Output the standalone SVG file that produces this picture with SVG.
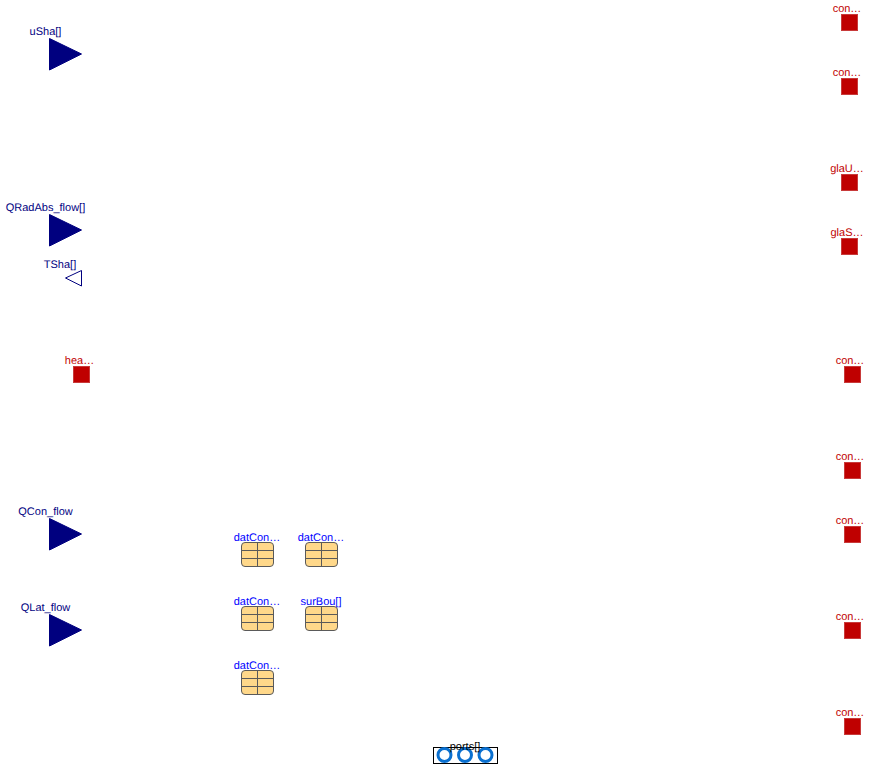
<svg xmlns="http://www.w3.org/2000/svg" width="870" height="770" viewBox="0 0 870 770">
<style>
text{font-family:"Liberation Sans",Arial,sans-serif;font-size:11px;text-anchor:middle;opacity:.99;text-rendering:geometricPrecision}
.n{fill:#00007f}
.r{fill:#bf0000}
.b{fill:#0000ff}
.k{fill:#000}
.tf{fill:#00007f;stroke:#00007f}
.to{fill:#fff;stroke:#00007f}
.sq{fill:#bf0000;stroke:#c83a3a;stroke-width:1}
.tb{fill:#ffd88a;stroke:#5a5a5a;stroke-width:1}
.gl{fill:none;stroke:#5a5a5a;stroke-width:1}
.ring{fill:#fff;stroke:#0a70d0;stroke-width:3}
</style>
<defs>
<g id="tab"><rect x="0.5" y="0.5" width="32" height="24" rx="3.5" class="tb"/><path d="M0.5 8.5H32.5M0.5 16.5H32.5M16.5 0.5V24.5" class="gl"/></g>
<rect id="sq" x="0.5" y="0.5" width="16" height="16" class="sq"/>
<polygon id="tri" points="49.5,38.5 81.5,54 49.5,70" class="tf"/>
</defs>
<g id="connectors"/>
<g id="uSha"><text x="45.500" y="35" class="n">uSha[]</text><use href="#tri"/></g>
<g id="QRadAbs_flow"><text x="45.500" y="211" class="n">QRadAbs_flow[]</text><use href="#tri" y="176"/></g>
<g id="TSha"><text x="60" y="268" class="n">TSha[]</text><polygon points="81.500,270.500 65.500,278 81.500,286" class="to"/></g>
<g id="hea"><text x="79.500" y="364" class="r">hea…</text><use href="#sq" x="73" y="366"/></g>
<g id="QCon_flow"><text x="45.500" y="515" class="n">QCon_flow</text><use href="#tri" y="480"/></g>
<g id="QLat_flow"><text x="45.500" y="611" class="n">QLat_flow</text><use href="#tri" y="576"/></g>
<g id="con1"><text x="847" y="12" class="r">con…</text><use href="#sq" x="841" y="14"/></g>
<g id="con2"><text x="847" y="76" class="r">con…</text><use href="#sq" x="841" y="78"/></g>
<g id="glaU"><text x="847" y="172" class="r">glaU…</text><use href="#sq" x="841" y="174"/></g>
<g id="glaS"><text x="847" y="236" class="r">glaS…</text><use href="#sq" x="841" y="238"/></g>
<g id="con3"><text x="850" y="364" class="r">con…</text><use href="#sq" x="844" y="366"/></g>
<g id="con4"><text x="850" y="460" class="r">con…</text><use href="#sq" x="844" y="462"/></g>
<g id="con5"><text x="850" y="524" class="r">con…</text><use href="#sq" x="844" y="526"/></g>
<g id="con6"><text x="850" y="620" class="r">con…</text><use href="#sq" x="844" y="622"/></g>
<g id="con7"><text x="850" y="716" class="r">con…</text><use href="#sq" x="844" y="718"/></g>
<g id="datCon1"><text x="257" y="541" class="b">datCon…</text><use href="#tab" x="241" y="542"/></g>
<g id="datCon2"><text x="321" y="541" class="b">datCon…</text><use href="#tab" x="305" y="542"/></g>
<g id="datCon3"><text x="257" y="605" class="b">datCon…</text><use href="#tab" x="241" y="606"/></g>
<g id="surBou"><text x="321" y="605" class="b">surBou[]</text><use href="#tab" x="305" y="606"/></g>
<g id="datCon4"><text x="257" y="669" class="b">datCon…</text><use href="#tab" x="241" y="670"/></g>
<g id="ports"><rect x="433.500" y="747.500" width="64" height="16" fill="#fff" stroke="#000"/><circle class="ring" cx="444.500" cy="755" r="6.500"/><circle class="ring" cx="465" cy="755" r="6.500"/><circle class="ring" cx="485.500" cy="755" r="6.500"/><text x="465" y="750" class="k">ports[]</text></g>
</svg>
